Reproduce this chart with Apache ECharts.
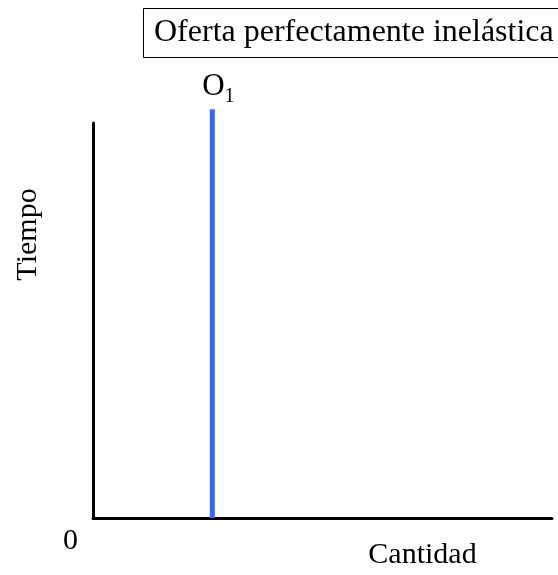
<!DOCTYPE html>
<html>
<head>
<meta charset="utf-8">
<script src="https://cdn.jsdelivr.net/npm/echarts@6/dist/echarts.min.js"></script>
<style>html,body{margin:0;padding:0;background:#fff}#c{width:558px;height:575px}</style>
</head>
<body>
<div id="c"></div>
<script>
const titleText = 'Oferta perfectamente inelástica';
const xName = 'Cantidad';
const yName = 'Tiempo';
const curveName = 'O';
const curveSub = '1';
const supplyX = [26, 26];
const supplyY = [0, 103.5];
const xRange = [0, 100];
const yRange = [0, 100];

const FONT = '"Liberation Serif", "Times New Roman", serif';
const chart = echarts.init(document.getElementById('c'), null, {renderer: 'canvas'});
chart.setOption({
  animation: false,
  backgroundColor: '#ffffff',
  title: {
    text: titleText,
    left: 143, top: 9,
    padding: [9, 40, 9, 11],
    borderColor: '#000', borderWidth: 1,
    textStyle: {fontFamily: FONT, fontSize: 32, fontWeight: 'normal', color: '#000', lineHeight: 30}
  },
  grid: {left: 93, right: 6, top: 123, bottom: 51, containLabel: false},
  xAxis: {
    type: 'value', min: xRange[0], max: xRange[1], interval: 100,
    name: xName, nameLocation: 'middle', nameGap: 22,
    nameTextStyle: {fontFamily: FONT, fontSize: 30, color: '#000', padding: [0, 0, 0, 200]},
    axisLine: {show: true, lineStyle: {color: '#000', width: 3}},
    axisTick: {show: false}, axisLabel: {show: false}, splitLine: {show: false}
  },
  yAxis: {
    type: 'value', min: yRange[0], max: yRange[1], interval: 100,
    name: yName, nameLocation: 'middle', nameGap: 50, nameRotate: 90,
    nameTextStyle: {fontFamily: FONT, fontSize: 30, color: '#000', padding: [0, 0, 0, 172]},
    axisLine: {show: true, lineStyle: {color: '#000', width: 3}},
    axisTick: {show: false}, splitLine: {show: false},
    axisLabel: {
      show: true, showMaxLabel: false, margin: 15,
      formatter: v => (v === 0 ? '0' : ''),
      fontFamily: FONT, fontSize: 30, color: '#000', verticalAlign: 'top', padding: [8, 0, 0, 0]
    }
  },
  series: [{
    type: 'line',
    clip: false,
    symbol: 'circle',
    symbolSize: 0,
    showSymbol: true,
    itemStyle: {color: '#3366ff'},
    data: supplyX.map((x, i) => [x, supplyY[i]]),
    lineStyle: {color: '#3366ff', width: 5},
    label: {
      show: true, position: 'top', distance: 2, offset: [6, 0],
      formatter: p => (p.dataIndex === supplyX.length - 1 ? curveName + '{sub|' + curveSub + '}' : ''),
      fontFamily: FONT, fontSize: 31, color: '#000',
      rich: {sub: {fontFamily: FONT, fontSize: 20, color: '#000', verticalAlign: 'bottom', padding: [20, 0, 0, 0]}}
    }
  }]
});
</script>
</body>
</html>
